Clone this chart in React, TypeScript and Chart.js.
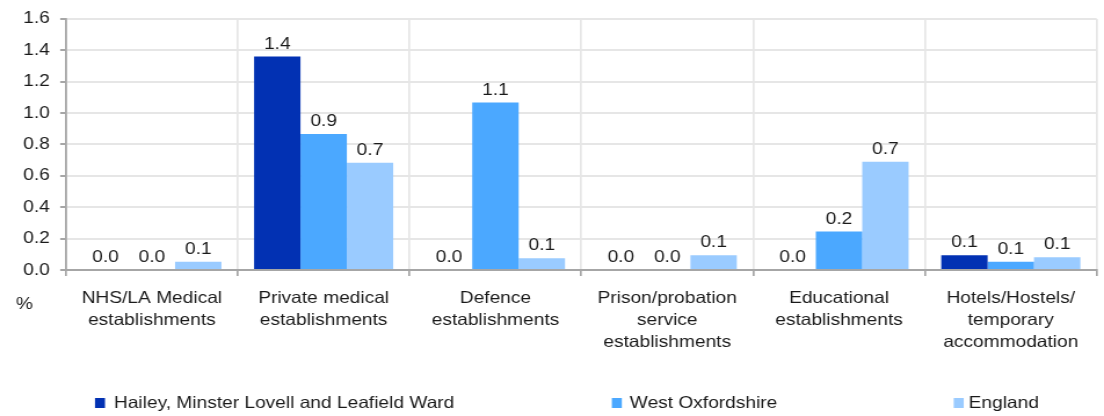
import React, { useEffect, useRef } from "react";
import { Chart, registerables } from "chart.js";

Chart.register(...registerables);

const categories: string[][] = [
  ["NHS/LA Medical", "establishments"],
  ["Private medical", "establishments"],
  ["Defence", "establishments"],
  ["Prison/probation", "service", "establishments"],
  ["Educational", "establishments"],
  ["Hotels/Hostels/", "temporary", "accommodation"],
];

const seriesNames = ["Hailey, Minster Lovell and Leafield Ward", "West Oxfordshire", "England"];
const wardValues = [0, 1.36, 0, 0, 0, 0.094];
const districtValues = [0, 0.866, 1.067, 0, 0.245, 0.053];
const englandValues = [0.052, 0.684, 0.075, 0.094, 0.69, 0.082];
const seriesColors = ["#0231B3", "#4BA8FF", "#9ACBFF"];
const yTicks = [0, 0.2, 0.4, 0.6, 0.8, 1.0, 1.2, 1.4, 1.6];

const FONT = "'Liberation Sans', Arial, sans-serif";
const TEXT = "#1a1a1a";
const PAGE_W = 1104;
const PAGE_H = 416;
const STRETCH = 1.16;
const W = Math.round(PAGE_W / STRETCH);
const px = (x: number) => x / STRETCH;

const extrasPlugin = {
  id: "extras",
  afterDatasetsDraw(chart: any) {
    const ctx = chart.ctx;
    ctx.save();
    ctx.font = `16.5px ${FONT}`;
    ctx.fillStyle = TEXT;
    ctx.textAlign = "center";
    ctx.textBaseline = "alphabetic";
    chart.data.datasets.forEach((ds: any, i: number) => {
      const meta = chart.getDatasetMeta(i);
      meta.data.forEach((bar: any, j: number) => {
        const v = ds.data[j] as number;
        ctx.fillText(v.toFixed(1), bar.x, bar.y - 8);
      });
    });
    ctx.restore();
  },
  afterDraw(chart: any) {
    const ctx = chart.ctx;
    ctx.save();
    ctx.font = `16.5px ${FONT}`;
    ctx.fillStyle = TEXT;
    ctx.textBaseline = "middle";
    ctx.textAlign = "left";
    ctx.fillText("%", px(16), 304);
    const boxX = [95, 612, 954];
    const textX = [114, 630, 969];
    const ly = 403;
    chart.data.datasets.forEach((ds: any, i: number) => {
      ctx.fillStyle = ds.backgroundColor;
      ctx.fillRect(px(boxX[i]), ly - 5, px(10), 10);
      ctx.fillStyle = TEXT;
      ctx.fillText(ds.label, px(textX[i]), ly);
    });
    ctx.restore();
  },
};

export default function App() {
  const ref = useRef<HTMLCanvasElement>(null);
  useEffect(() => {
    document.body.style.margin = "0";
    const chart = new Chart(ref.current!, {
      type: "bar",
      data: {
        labels: categories,
        datasets: [wardValues, districtValues, englandValues].map((d, i) => ({
          label: seriesNames[i],
          data: d,
          backgroundColor: seriesColors[i],
          borderWidth: 0,
          barPercentage: 1,
          categoryPercentage: 0.81,
        })),
      },
      options: {
        animation: false,
        responsive: false,
        layout: { padding: { top: 9, right: W - px(1097), bottom: 46, left: 0 } },
        plugins: { legend: { display: false }, tooltip: { enabled: false } },
        scales: {
          x: {
            afterFit: (s: any) => { s.height = 100; },
            grid: { color: "#e6e6e6", tickColor: "#a6a6a6", tickLength: 6, offset: true, lineWidth: 1.7 },
            border: { color: "#a6a6a6", width: 2 },
            ticks: {
              color: TEXT,
              font: { family: FONT, size: 16.5, lineHeight: 1.32 },
              padding: 12,
              maxRotation: 0,
              autoSkip: false,
            },
          },
          y: {
            min: 0,
            max: 1.6,
            afterFit: (s: any) => { s.width = px(66); },
            afterBuildTicks: (s: any) => { s.ticks = yTicks.map((v) => ({ value: v })); },
            grid: { color: "#e6e6e6", tickColor: "#a6a6a6", tickLength: 5, lineWidth: 2 },
            border: { color: "#a6a6a6", width: 1.8 },
            ticks: {
              color: TEXT,
              font: { family: FONT, size: 16.5 },
              padding: 9,
              callback: (v: any) => Number(v).toFixed(1),
            },
          },
        },
      },
      plugins: [extrasPlugin],
    });
    return () => chart.destroy();
  }, []);
  return (
    <canvas
      ref={ref}
      width={W}
      height={PAGE_H}
      style={{ display: "block", width: PAGE_W + "px", height: PAGE_H + "px" }}
    />
  );
}
